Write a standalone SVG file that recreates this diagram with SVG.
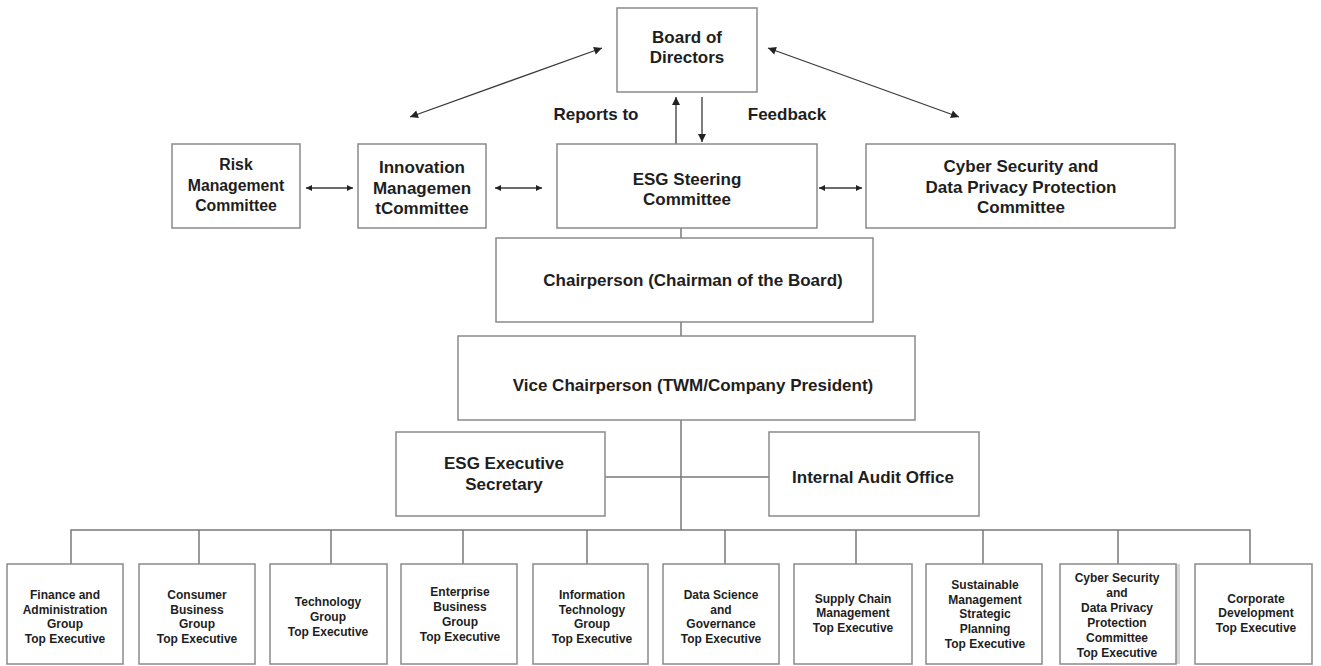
<svg xmlns="http://www.w3.org/2000/svg" width="1321" height="666" viewBox="0 0 1321 666">
<style>
.box{fill:#fff;stroke:#8a8a8a;stroke-width:1.5}
.t{font-family:"Liberation Sans",Arial,sans-serif;font-weight:bold;fill:#1e1e1e;text-anchor:middle}
.t17{font-size:17px}
.t16{font-size:15.8px}
.t12{font-size:12px}
.ln{fill:none;stroke:#7a7a7a;stroke-width:1.5}
.ar{fill:none;stroke:#3a3a3a;stroke-width:1.3}
</style>
<defs>
<marker id="ah" viewBox="0 0 10 10" refX="10" refY="5" markerUnits="userSpaceOnUse" markerWidth="11" markerHeight="8" orient="auto-start-reverse">
<path d="M0,0 L10,5 L0,10 z" fill="#222"/>
</marker>
<marker id="ahs" viewBox="0 0 10 10" refX="10" refY="5" markerUnits="userSpaceOnUse" markerWidth="7" markerHeight="6" orient="auto-start-reverse">
<path d="M0,0 L10,5 L0,10 z" fill="#222"/>
</marker>
</defs>
<rect width="1321" height="666" fill="#fff"/>

<g id="connectors">
<line class="ar" x1="410" y1="117" x2="602" y2="48" marker-start="url(#ah)" marker-end="url(#ah)"/>
<line class="ar" x1="768" y1="48" x2="959" y2="117" marker-start="url(#ah)" marker-end="url(#ah)"/>
<line class="ar" x1="676" y1="144" x2="676" y2="97" marker-end="url(#ah)"/>
<line class="ar" x1="702" y1="97" x2="702" y2="142" marker-end="url(#ah)"/>
<line class="ar" x1="306" y1="188" x2="353" y2="188" marker-start="url(#ahs)" marker-end="url(#ahs)"/>
<line class="ar" x1="495" y1="188" x2="542" y2="188" marker-start="url(#ahs)" marker-end="url(#ahs)"/>
<line class="ar" x1="819" y1="188" x2="862" y2="188" marker-start="url(#ahs)" marker-end="url(#ahs)"/>
<path class="ln" d="M681,228 V238 M681,322 V336 M681,420 V530 M605,477 H769"/>
<path class="ln" d="M71,564 V530 H1250 V564 M199,530 V564 M331,530 V564 M463,530 V564 M587,530 V564 M725,530 V564 M856,530 V564 M983,530 V564 M1118,530 V564"/>
<text class="t t17" x="596" y="120">Reports to</text>
<text class="t t17" x="787" y="120">Feedback</text>
</g>

<g id="board">
<rect class="box" x="617" y="8" width="140" height="84"/>
<text class="t t17" x="687" y="43">Board of</text>
<text class="t t17" x="687" y="63">Directors</text>
</g>

<g id="risk">
<rect class="box" x="172" y="144" width="128" height="84"/>
<text class="t t16" x="236" y="170">Risk</text>
<text class="t t16" x="236" y="191">Management</text>
<text class="t t16" x="236" y="211">Committee</text>
</g>

<g id="innovation">
<rect class="box" x="358" y="144" width="128" height="84"/>
<text class="t t17" x="422" y="173">Innovation</text>
<text class="t t17" x="422" y="194">Managemen</text>
<text class="t t17" x="422" y="214">tCommittee</text>
</g>

<g id="esg-steering">
<rect class="box" x="557" y="144" width="260" height="84"/>
<text class="t t17" x="687" y="185">ESG Steering</text>
<text class="t t17" x="687" y="205">Committee</text>
</g>

<g id="cyber-committee">
<rect class="box" x="866" y="144" width="309" height="84"/>
<text class="t t17" x="1021" y="172">Cyber Security and</text>
<text class="t t17" x="1021" y="193">Data Privacy Protection</text>
<text class="t t17" x="1021" y="213">Committee</text>
</g>

<g id="chairperson">
<rect class="box" x="496" y="238" width="377" height="84"/>
<text class="t t17" x="693" y="286">Chairperson (Chairman of the Board)</text>
</g>

<g id="vice-chairperson">
<rect class="box" x="458" y="336" width="457" height="84"/>
<text class="t t17" x="693" y="391">Vice Chairperson (TWM/Company President)</text>
</g>

<g id="esg-secretary">
<rect class="box" x="396" y="432" width="209" height="84"/>
<text class="t t17" x="504" y="469">ESG Executive</text>
<text class="t t17" x="504" y="490">Secretary</text>
</g>

<g id="audit">
<rect class="box" x="769" y="432" width="210" height="84"/>
<text class="t t17" x="873" y="483">Internal Audit Office</text>
</g>

<g id="finance">
<rect class="box" x="7" y="564" width="116" height="100"/>
<text class="t t12" x="65" y="599">Finance  and</text>
<text class="t t12" x="65" y="614">Administration</text>
<text class="t t12" x="65" y="628">Group</text>
<text class="t t12" x="65" y="643">Top Executive</text>
</g>

<g id="consumer">
<rect class="box" x="139" y="564" width="116" height="100"/>
<text class="t t12" x="197" y="599">Consumer</text>
<text class="t t12" x="197" y="614">Business</text>
<text class="t t12" x="197" y="628">Group</text>
<text class="t t12" x="197" y="643">Top Executive</text>
</g>

<g id="technology">
<rect class="box" x="270" y="564" width="117" height="100"/>
<text class="t t12" x="328" y="606">Technology</text>
<text class="t t12" x="328" y="621">Group</text>
<text class="t t12" x="328" y="636">Top Executive</text>
</g>

<g id="enterprise">
<rect class="box" x="401" y="564" width="116" height="100"/>
<text class="t t12" x="460" y="596">Enterprise</text>
<text class="t t12" x="460" y="611">Business</text>
<text class="t t12" x="460" y="626">Group</text>
<text class="t t12" x="460" y="641">Top Executive</text>
</g>

<g id="info-tech">
<rect class="box" x="533" y="564" width="115" height="100"/>
<text class="t t12" x="592" y="599">Information</text>
<text class="t t12" x="592" y="614">Technology</text>
<text class="t t12" x="592" y="628">Group</text>
<text class="t t12" x="592" y="643">Top Executive</text>
</g>

<g id="data-science">
<rect class="box" x="663" y="564" width="116" height="100"/>
<text class="t t12" x="721" y="599">Data Science</text>
<text class="t t12" x="721" y="614">and</text>
<text class="t t12" x="721" y="628">Governance</text>
<text class="t t12" x="721" y="643">Top Executive</text>
</g>

<g id="supply-chain">
<rect class="box" x="794" y="564" width="118" height="100"/>
<text class="t t12" x="853" y="603">Supply Chain</text>
<text class="t t12" x="853" y="617">Management</text>
<text class="t t12" x="853" y="632">Top Executive</text>
</g>

<g id="sustainable">
<rect class="box" x="926" y="564" width="116" height="100"/>
<text class="t t12" x="985" y="589">Sustainable</text>
<text class="t t12" x="985" y="604">Management</text>
<text class="t t12" x="985" y="618">Strategic</text>
<text class="t t12" x="985" y="633">Planning</text>
<text class="t t12" x="985" y="648">Top Executive</text>
</g>

<g id="cyber-exec">
<rect x="1060" y="564" width="120" height="100" fill="#d6d6d6"/>
<rect class="box" x="1060" y="564" width="116" height="100"/>
<text class="t t12" x="1117" y="582">Cyber Security</text>
<text class="t t12" x="1117" y="597">and</text>
<text class="t t12" x="1117" y="612">Data Privacy</text>
<text class="t t12" x="1117" y="627">Protection</text>
<text class="t t12" x="1117" y="642">Committee</text>
<text class="t t12" x="1117" y="657">Top Executive</text>
</g>

<g id="corporate">
<rect class="box" x="1195" y="564" width="117" height="100"/>
<text class="t t12" x="1256" y="603">Corporate</text>
<text class="t t12" x="1256" y="617">Development</text>
<text class="t t12" x="1256" y="632">Top Executive</text>
</g>
</svg>
